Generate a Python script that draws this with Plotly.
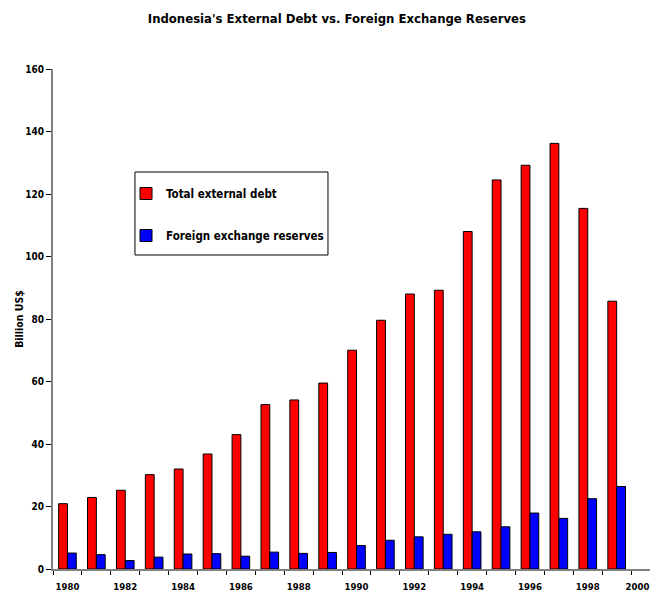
"""Indonesia's external debt vs foreign exchange reserves, 1980-1999"""

import plotly.graph_objects as go

# data (billion US$)
years = list(range(1980, 2000))
total_debt = [20.9, 22.9, 25.2, 30.2, 32.0, 36.8, 43.0, 52.6, 54.1, 59.5,
              70.0, 79.6, 88.0, 89.2, 108.0, 124.5, 129.2, 136.2, 115.4, 85.7]
fx_reserves = [5.1, 4.6, 2.7, 3.8, 4.8, 4.9, 4.1, 5.4, 5.0, 5.3,
               7.5, 9.2, 10.3, 11.1, 11.9, 13.5, 17.9, 16.2, 22.5, 26.4]
tick_years = list(range(1980, 2001, 2))
y_ticks = list(range(0, 161, 20))

FONT = "DejaVu Sans Condensed, Liberation Sans Narrow, Arial Narrow, Liberation Sans"

# last label ("2000") sits at the right edge, nudge it in so it is not clipped
tick_pos = [y if y < 2000 else 1999.72 for y in tick_years]

fig = go.Figure()
fig.add_trace(go.Bar(
    x=years, y=total_debt, name="<b>Total external debt</b>",
    marker=dict(color="#ff0000", line=dict(color="black", width=1)),
    legendgroup="a",
))
fig.add_trace(go.Bar(
    x=years, y=fx_reserves, name="<b>Foreign exchange reserves</b>",
    marker=dict(color="#0000ff", line=dict(color="black", width=1)),
    legendgroup="b",
))

# the page body adds 8px of offset, so the figure is sized to fit the window
fig.update_layout(
    width=650, height=589,
    margin=dict(l=45, r=0, t=61, b=28),
    paper_bgcolor="white", plot_bgcolor="white",
    barmode="group", bargap=0.39, bargroupgap=0,
    font=dict(family=FONT, size=10, color="black"),
    title=dict(
        text="<b>Indonesia's External Debt vs. Foreign Exchange Reserves</b>",
        x=0.506, xanchor="center", y=0.983, yanchor="middle",
        font=dict(family=FONT, size=13, color="black"),
    ),
    legend=dict(
        x=0.1207, y=0.78, xanchor="left", yanchor="top",
        borderwidth=0, bgcolor="rgba(0,0,0,0)",
        font=dict(family=FONT, size=11.5, color="black"),
        tracegroupgap=23, itemwidth=30,
    ),
    showlegend=True,
    # legend frame
    shapes=[dict(type="rect", xref="paper", yref="paper",
                 x0=0.1355, x1=0.4545, y0=0.628, y1=0.794,
                 line=dict(color="black", width=1), layer="below")],
)

fig.update_xaxes(
    automargin=False,
    range=[1979.5, 2000.43],
    tickvals=tick_pos,
    ticktext=[f"<b>{y}</b>" for y in tick_years],
    ticks="", ticklabelstandoff=8, ticklabeloverflow="allow",
    minor=dict(tickvals=[y - 0.5 for y in range(1980, 2001)],
               ticks="outside", ticklen=4, tickcolor="black", tickwidth=1),
    showline=True, linecolor="#808080", linewidth=1.5,
    showgrid=False, zeroline=False,
    tickfont=dict(family=FONT, size=9.5, color="black"),
)
fig.update_yaxes(
    automargin=False,
    range=[0, 160],
    tickvals=y_ticks,
    ticktext=[f"<b>{v}</b>" for v in y_ticks],
    ticks="outside", ticklen=5, tickcolor="black",
    showline=True, linecolor="#808080", linewidth=2,
    showgrid=False, zeroline=False,
    tickfont=dict(family=FONT, size=10, color="black"),
    title=dict(text="<b>Billion US$</b>", standoff=0,
               font=dict(family=FONT, size=10.5)),
)

fig.write_html("out.html")
